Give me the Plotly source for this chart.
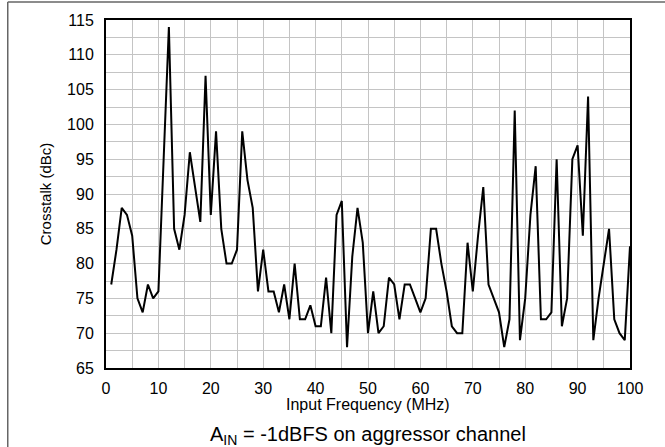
import plotly.graph_objects as go

freq_mhz = list(range(1, 101))
crosstalk_dbc = [
    77, 82, 88, 87, 84, 75, 73, 77, 75, 76,
    95, 114, 85, 82, 87, 96, 91, 86, 107, 87,
    99, 85, 80, 80, 82, 99, 92, 88, 76, 82,
    76, 76, 73, 77, 72, 80, 72, 72, 74, 71,
    71, 78, 70, 87, 89, 68, 81, 88, 83, 70,
    76, 70, 71, 78, 77, 72, 77, 77, 75, 73,
    75, 85, 85, 80, 76, 71, 70, 70, 83, 76,
    84, 91, 77, 75, 73, 68, 72, 102, 69, 75,
    87, 94, 72, 72, 73, 95, 71, 75, 95, 97,
    84, 104, 69, 75, 80, 85, 72, 70, 69, 82.5,
]
x_tick_step = 10
y_tick_step = 5

FONT = "Liberation Sans, Arial, sans-serif"
GRID = "#c4c4c4"

fig = go.Figure()
fig.add_trace(go.Scatter(
    x=freq_mhz, y=crosstalk_dbc, mode="lines",
    line=dict(color="black", width=2), showlegend=False,
))

fig.update_layout(
    width=665, height=447,
    margin=dict(l=106, r=35, t=20, b=79),
    paper_bgcolor="white", plot_bgcolor="white",
    font=dict(family=FONT, color="black", size=16),
    xaxis=dict(
        range=[0, 100], tick0=0, dtick=x_tick_step,
        showgrid=True, gridcolor=GRID, gridwidth=1, zeroline=False,
        showline=True, linecolor="black", linewidth=2, mirror=True,
        ticks="", tickfont=dict(size=16), ticklabelstandoff=5,
        minor=dict(dtick=x_tick_step / 2, showgrid=True, gridcolor=GRID, gridwidth=1),
    ),
    yaxis=dict(
        range=[65, 115], tick0=65, dtick=y_tick_step,
        showgrid=True, gridcolor=GRID, gridwidth=1, zeroline=False,
        showline=True, linecolor="black", linewidth=2, mirror=True,
        ticks="", tickfont=dict(size=16), ticklabelstandoff=7,
        minor=dict(dtick=y_tick_step / 2, showgrid=True, gridcolor=GRID, gridwidth=1),
    ),
    annotations=[
        dict(text="Crosstalk (dBc)", xref="paper", yref="paper",
             x=-0.116, y=0.5, xanchor="center", yanchor="middle",
             textangle=-90, showarrow=False, font=dict(size=15)),
        dict(text="Input Frequency (MHz)", xref="paper", yref="paper",
             x=0.5, y=-0.104, xanchor="center", yanchor="middle",
             showarrow=False, font=dict(size=16)),
        dict(text="A<sub>IN</sub> = -1dBFS on aggressor channel",
             xref="paper", yref="paper",
             x=0.5, y=-0.195, xanchor="center", yanchor="middle",
             showarrow=False, font=dict(size=20)),
    ],
    shapes=[
        dict(type="line", xref="paper", yref="paper",
             x0=-0.1875, x1=1.07, y0=1.0517, y1=1.0517,
             line=dict(color="#666666", width=1.5)),
        dict(type="line", xref="paper", yref="paper",
             x0=-0.1875, x1=-0.1875, y0=1.0517, y1=-0.23,
             line=dict(color="#666666", width=1.5)),
    ],
)

fig.write_html(
    "out.html",
    config={"displayModeBar": False},
    post_script="document.body.style.margin='0';document.body.style.overflow='hidden';",
)
